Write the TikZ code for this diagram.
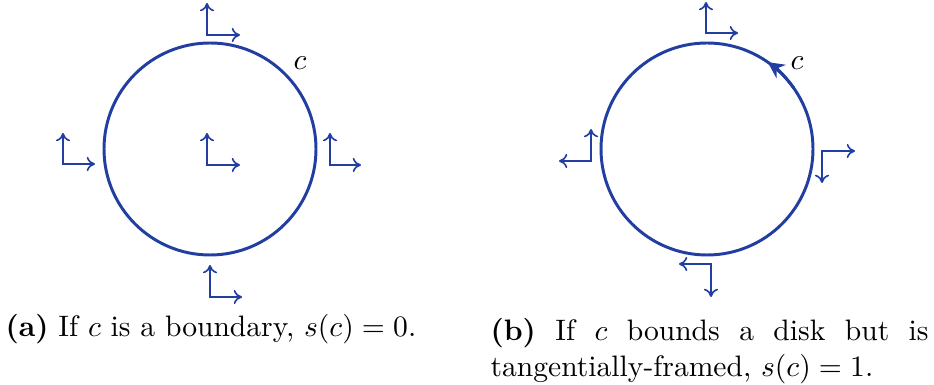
\documentclass[tikz,border=0pt]{standalone}
\usetikzlibrary{arrows.meta,calc}
\definecolor{cblue}{RGB}{33,62,160}
\begin{document}
\begin{tikzpicture}[x=0.338pt,y=-0.338pt,
  circ/.style={draw=cblue,line width=1pt},
  frame/.style={draw=cblue,line width=0.55pt,{To[length=2.8pt,width=4.8pt]}-{To[length=2.8pt,width=4.8pt]}},
  lab/.style={inner sep=0pt}]
\useasboundingbox (0,0) rectangle (934,385);
% (a)
\coordinate (ca) at (210,149);
\draw[circ] (ca) circle (106);
\node[lab] (la) at (300,63) {$c$};
\draw[frame] (207,3) -- (207,35) -- (240,35);
\draw[frame] (63,133) -- (63,164) -- (95,164);
\draw[frame] (207,133) -- (207,165) -- (240,165);
\draw[frame] (330,133) -- (330,165) -- (361,165);
\draw[frame] (210,265) -- (210,297) -- (242,297);
% (b)
\coordinate (cb) at (707,149);
\draw[circ] (cb) circle (106);
\draw[circ,-{Stealth[length=5.5pt,width=5.5pt]}] ($(cb)+(-35:106)$) arc (-35:-55:106);
\node[lab] (lb) at (797,63) {$c$};
\draw[frame] (706,2) -- (706,33) -- (738,33);
\draw[frame] (591,129) -- (591,161) -- (559,161);
\draw[frame] (855,151) -- (822,151) -- (822,183);
\draw[frame] (679,264) -- (711,264) -- (711,297);
% captions
\node[lab,anchor=base west] (capa) at (5,337) {\textbf{(a)} If $c$ is a boundary, $s(c)=0$.};
\node[lab,anchor=north west,text width=438*0.338pt,align=justify] (capb) at (490,318) {\textbf{(b)} If $c$ bounds a disk but is tangentially-framed, $s(c)=1$.};
\end{tikzpicture}
\end{document}
